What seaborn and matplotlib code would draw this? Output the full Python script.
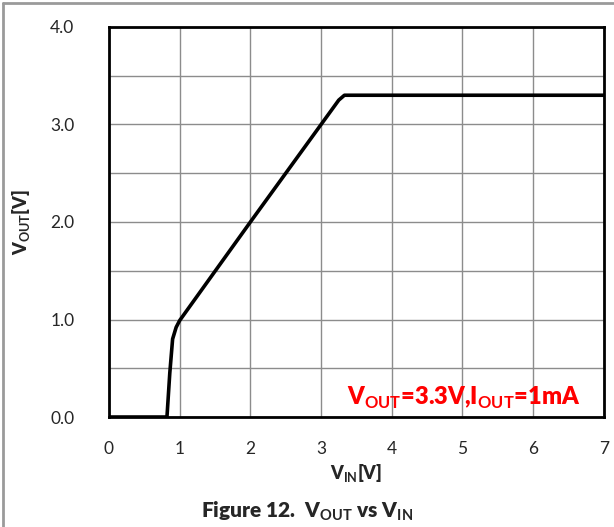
import matplotlib.pyplot as plt
import matplotlib.lines as mlines
import pandas as pd
import seaborn as sns

# V_IN vs V_OUT
vin = [0.0, 0.82, 0.86, 0.90, 0.95, 1.00, 2.00, 3.00, 3.25, 3.33, 3.40, 7.00]
vout = [0.0, 0.0, 0.45, 0.80, 0.92, 0.99, 2.00, 3.00, 3.25, 3.30, 3.30, 3.30]

x_ticks = [0, 1, 2, 3, 4, 5, 6, 7]
y_ticks = [0.0, 1.0, 2.0, 3.0, 4.0]
y_labels = ['0.0', '1.0', '2.0', '3.0', '4.0']

df = pd.DataFrame({'vin': vin, 'vout': vout})

sns.set_style('white')
plt.rcParams['font.family'] = ['Lato', 'DejaVu Sans']
plt.rcParams['mathtext.fontset'] = 'custom'
plt.rcParams['mathtext.rm'] = 'Lato'
plt.rcParams['mathtext.bf'] = 'Lato:bold'

fig = plt.figure(figsize=(6.14, 5.27), dpi=100)
ax = fig.add_axes([0.1775, 0.2087, 0.806, 0.7401])

sns.lineplot(data=df, x='vin', y='vout', color='black', linewidth=2.6, ax=ax)

ax.set_xlim(0, 7)
ax.set_ylim(0, 4)
ax.set_xticks(x_ticks)
ax.set_yticks(y_ticks)
ax.set_yticklabels(y_labels)
ax.set_yticks([0.5, 1.5, 2.5, 3.5], minor=True)
ax.grid(visible=True, which='both', color='#8c8c8c', linewidth=1.0)
ax.set_axisbelow(True)
ax.tick_params(axis='both', which='both', length=0, labelsize=12.5)
ax.tick_params(axis='x', pad=17)
ax.tick_params(axis='y', pad=25)
for s in ax.spines.values():
    s.set_visible(True)
    s.set_color('black')
    s.set_linewidth(2.0)

ax.set_xlabel(r'V$_{\mathbf{IN}}$[V]', fontsize=13, fontweight='heavy', labelpad=4)
ax.set_ylabel(r'V$_{\mathbf{OUT}}$[V]', fontsize=13, fontweight='heavy', labelpad=13)

ax.text(6.67, 0.2, r'V$_{\mathbf{OUT}}$=3.3V,I$_{\mathbf{OUT}}$=1mA', color='#ff0000',
        fontsize=17, fontweight='heavy', ha='right', va='center')

fig.text(0.5, 0.03, r'Figure 12.  V$_{\mathbf{OUT}}$ vs V$_{\mathbf{IN}}$',
         fontsize=15, fontweight='heavy', ha='center', va='center')

# page frame lines of the source document
fig.add_artist(mlines.Line2D([0.005, 0.005], [0, 0.995], color='#9a9a9a', linewidth=2))
fig.add_artist(mlines.Line2D([0.005, 1], [0.995, 0.995], color='#9a9a9a', linewidth=2))

fig.savefig('out.png', dpi=100)
